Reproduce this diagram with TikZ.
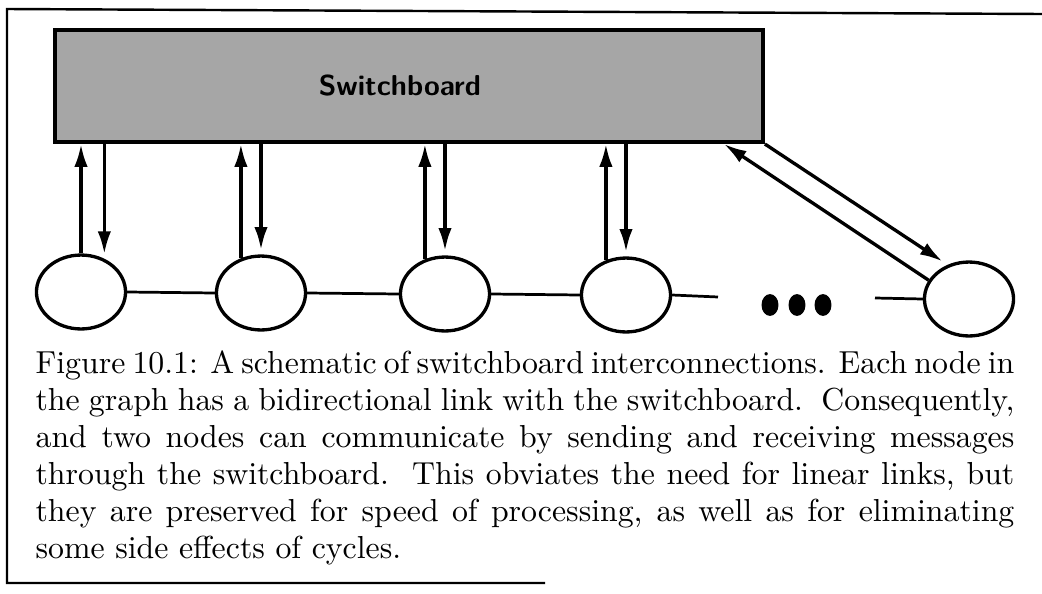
\documentclass[tikz,border=0pt]{standalone}
\usetikzlibrary{arrows.meta,shapes.geometric}
\newcommand{\capline}[1]{\makebox[323pt][s]{#1}}
\begin{document}
\begin{tikzpicture}[x=0.33pt,y=-0.33pt,>={Latex[length=7.5pt,width=4.4pt]}]
    \tikzset{
        proc/.style={
            draw,
            ellipse,
            line width=1.1pt,
            minimum width=29.4pt,
            minimum height=24.4pt,
            inner sep=0pt
        },
        dot/.style={fill,ellipse,minimum width=5.6pt,minimum height=7.2pt,inner sep=0pt},
        link/.style={->,line width=1.1pt},
        wire/.style={line width=0.9pt}
    }
    \useasboundingbox (0,0) rectangle (1042,594);
    \draw[line width=0.8pt] (545,583) -- (7,583) -- (7,9) -- (1042,14);

    \node[draw,line width=1.3pt,fill=black!35,minimum width=233.6pt,minimum height=37pt,
        font=\fontsize{9.5}{11}\selectfont\sffamily\bfseries] (board) at (409,86)
        {\hspace*{-6pt}\raisebox{-1pt}{Switchboard}};

    \node[proc] (n1) at (81,292) {};
    \node[proc] (n2) at (261,293) {};
    \node[proc] (n3) at (445,294) {};
    \node[proc] (n4) at (626,295) {};
    \node[proc] (n5) at (969,299) {};

    \node[dot] (d1) at (770,305) {};
    \node[dot] (d2) at (797,305) {};
    \node[dot] (d3) at (823,305) {};
    \coordinate (gapl) at (718,297);
    \coordinate (gapr) at (875,298);

    \draw[wire] (n1.east) -- (n2.west);
    \draw[wire] (n2.east) -- (n3.west);
    \draw[wire] (n3.east) -- (n4.west);
    \draw[wire] (n4.east) -- (gapl);
    \draw[wire] (gapr) -- (n5.west);

    \draw[link] (n1.north) -- (n1.north |- board.south);
    \draw[link,shorten >=1.5pt] (n1.55 |- board.south) -- (n1.55);
    \draw[link] (n2.120) -- (n2.120 |- board.south);
    \draw[link,shorten >=1.5pt] (n2.north |- board.south) -- (n2.north);
    \draw[link] (n3.120) -- (n3.120 |- board.south);
    \draw[link,shorten >=1.5pt] (n3.north |- board.south) -- (n3.north);
    \draw[link] (n4.120) -- (n4.120 |- board.south);
    \draw[link,shorten >=1.5pt] (n4.north |- board.south) -- (n4.north);
    \draw[link] (n5.155) -- ([xshift=-13.5pt]board.south east);
    \draw[link,shorten >=2pt] (board.south east) -- (n5.122);

    \node[anchor=north west,align=left,inner sep=0pt,
        font=\fontsize{10.5}{12.2}\selectfont] (caption) at (35,350)
        {\capline{Figure 10.1: A schematic of switchboard interconnections. Each node in}\\
         \capline{the graph has a bidirectional link with the switchboard.\ \ Consequently,}\\
         \capline{and two nodes can communicate by sending and receiving messages}\\
         \capline{through the switchboard.\ \ This obviates the need for linear links, but}\\
         \capline{they are preserved for speed of processing, as well as for eliminating}\\
         some side effects of cycles.};
\end{tikzpicture}
\end{document}
